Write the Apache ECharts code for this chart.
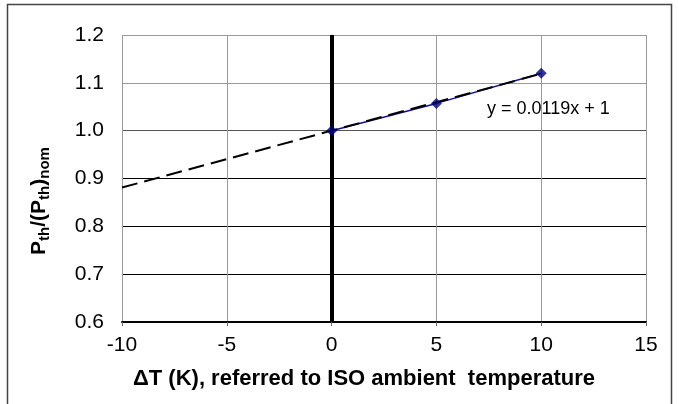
<!DOCTYPE html>
<html>
<head>
<meta charset="utf-8">
<script src="https://cdn.jsdelivr.net/npm/echarts@6/dist/echarts.min.js"></script>
<style>
  html, body { margin: 0; padding: 0; background: #fff; }
  #chart { width: 679px; height: 404px; }
</style>
</head>
<body>
<div id="chart"></div>
<script>
// Measured points: temperature offset vs. relative thermal output
const deltaT = [0, 5, 10];
const relPower = [1.0, 1.057, 1.12];

// Linear trend line y = slope * x + intercept, drawn across the span below
const slope = 0.0119;
const intercept = 1;
const trendX = [-10, 10];
const trendLabel = 'y = 0.0119x + 1';

// Axis ranges
const xMin = -10, xMax = 15, xStep = 5;
const yMin = 0.6, yMax = 1.2, yStep = 0.1;

// Horizontal grid line colours, from the bottom line upward
const hGridColors = ['#000', '#000', '#000', '#000', '#555', '#999', '#999'];

const font = '"Liberation Sans", Arial, sans-serif';

const measured = deltaT.map((x, i) => [x, relPower[i]]);
const trend = trendX.map(x => [x, slope * x + intercept]);

const chart = echarts.init(document.getElementById('chart'), null, { renderer: 'canvas' });

chart.setOption({
  backgroundColor: '#fff',
  animation: false,
  grid: { left: 122, top: 35, right: 33, bottom: 82 },
  graphic: [
    {
      type: 'rect',
      shape: { x: 7.5, y: 4.5, width: 664, height: 430 },
      style: { fill: 'none', stroke: '#444', lineWidth: 1.5 },
      silent: true
    },
    {
      type: 'text',
      left: 487, top: 100,
      style: { text: trendLabel, font: '18px ' + font, fill: '#000' },
      z: 20
    }
  ],
  xAxis: {
    type: 'value',
    min: xMin, max: xMax, interval: xStep,
    name: 'ΔT (K), referred to ISO ambient  temperature',
    nameLocation: 'middle',
    nameGap: 46,
    nameTextStyle: { fontFamily: font, fontSize: 22, fontWeight: 'bold', color: '#000', padding: [0, 40, 0, 0] },
    axisLine: { show: true, onZero: false, lineStyle: { color: '#000', width: 2 } },
    axisTick: { show: true, length: 4, lineStyle: { color: '#666', width: 1 } },
    axisLabel: { fontFamily: font, fontSize: 21, color: '#000', margin: 13 },
    splitLine: { show: true, lineStyle: { color: '#999', width: 1 } }
  },
  yAxis: {
    type: 'value',
    min: yMin, max: yMax, interval: yStep,
    name: '{b|P}{s|th}{b|/(P}{s|th}{b|)}{s|nom}',
    nameLocation: 'middle',
    nameRotate: 90,
    nameGap: 70,
    nameTextStyle: {
      padding: [0, 0, 0, -45],
      rich: {
        b: { fontFamily: font, fontSize: 21, fontWeight: 'bold', color: '#000' },
        s: { fontFamily: font, fontSize: 15, fontWeight: 'bold', color: '#000', verticalAlign: 'bottom', padding: [10, 0, 0, 0] }
      }
    },
    axisLine: { show: true, lineStyle: { color: '#888', width: 1 } },
    axisTick: { show: false },
    axisLabel: {
      fontFamily: font, fontSize: 21, color: '#000', margin: 18,
      formatter: v => v.toFixed(1)
    },
    splitLine: { show: true, lineStyle: { color: hGridColors, width: 1 } }
  },
  series: [
    {
      name: 'measured',
      type: 'line',
      data: measured,
      showSymbol: false,
      lineStyle: { color: '#1010a0', width: 1.5 },
      z: 3,
      markLine: {
        silent: true,
        symbol: 'none',
        label: { show: false },
        lineStyle: { color: '#000', width: 4, type: 'solid' },
        data: [{ xAxis: 0 }]
      }
    },
    {
      name: 'trend',
      type: 'line',
      data: trend,
      showSymbol: false,
      lineStyle: { color: '#000', width: 2, type: [16, 7] },
      z: 4
    },
    {
      name: 'points',
      type: 'scatter',
      data: measured,
      symbol: 'diamond',
      symbolSize: 11,
      itemStyle: { color: '#00007a' },
      z: 6
    }
  ]
});
</script>
</body>
</html>
